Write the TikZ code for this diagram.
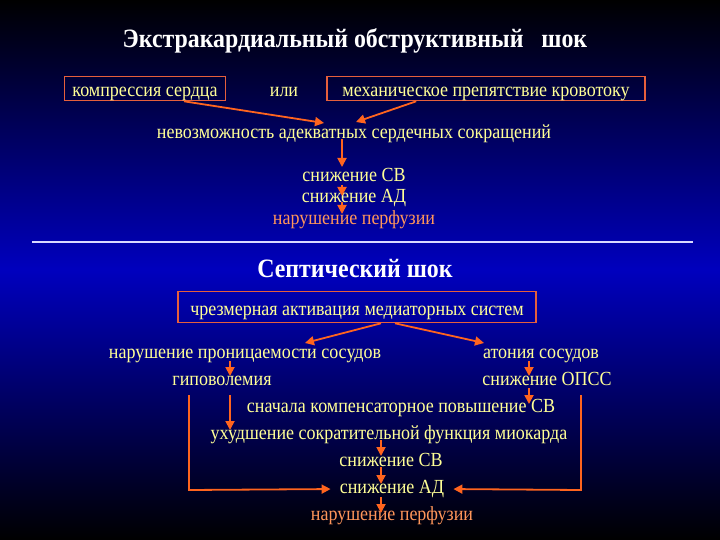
\documentclass[tikz,border=0pt]{standalone}
\usepackage{fontspec}
\setmainfont{Liberation Serif}[FakeStretch=0.9]
\usetikzlibrary{positioning}
\usetikzlibrary{arrows.meta}
\definecolor{pale}{RGB}{255,255,150}
\definecolor{hot}{RGB}{255,150,90}
\definecolor{rim}{RGB}{230,95,60}
\definecolor{arrc}{RGB}{255,100,30}
\definecolor{deep}{RGB}{0,0,190}

\begin{document}
\begin{tikzpicture}[x=1pt,y=-1pt,
            txt/.style = {text=pale,font=\fontsize{20}{20}\selectfont,inner sep=1pt,
                text height=12pt,text depth=3pt},
            perf/.style = {txt,text=hot},
            head/.style = {text=white,font=\fontsize{26.5}{26.5}\selectfont\bfseries},
            framed/.style = {txt,draw=rim,line width=1.6pt,minimum height=24pt,
                text height=17pt,text depth=0pt},
            arr/.style = {-{Triangle[length=9pt,width=9pt]},color=arrc,line width=1.8pt}]
            \shade[top color=black,bottom color=black,middle color=deep] (0,0) rectangle (720,540);
            \useasboundingbox (0,0) rectangle (720,540);
            % upper part
            \node[head] (title) at (355,41) {Экстракардиальный обструктивный \ \ шок};
            \node[framed,minimum width=161pt] (kompr) at (145,88.5) {компрессия сердца};
            \node[txt] (ili) at (284,92) {или};
            \node[framed,minimum width=318pt] (mekh) at (486,88.5) {механическое препятствие кровотоку};
            \node[txt] (nevozm) at (354,134) {невозможность адекватных сердечных сокращений};
            \node[txt] (snsv1) at (354,177) {снижение СВ};
            \node[txt] (snad1) at (354,198) {снижение АД};
            \node[perf] (narp1) at (354,220) {нарушение перфузии};
            \path
                ([xshift=39pt]kompr.south) edge[arr] (324,123)
                ([xshift=90pt]mekh.south west) edge[arr] (356,122)
                (342,139) edge[arr] (342,167)
                (342,185) edge[arr] (342,196)
                (342,202) edge[arr] (342,214);
            \draw[white!85!blue,line width=2.5pt] (32,242) -- (693,242);
            % lower part
            \node[head] (sept) at (355,269) {Септический шок};
            \node[framed,minimum width=358pt,minimum height=31pt] (chrezm) at (357,307) {чрезмерная активация медиаторных систем};
            \node[txt] (pronic) at (245,354) {нарушение проницаемости сосудов};
            \node[txt] (atonia) at (541,354) {атония сосудов};
            \node[txt] (gipo) at (222,381) {гиповолемия};
            \node[txt] (opss) at (547,381) {снижение ОПСС};
            \node[txt] (snachala) at (401,408) {сначала компенсаторное повышение СВ};
            \node[txt] (ukhud) at (389,435) {ухудшение сократительной функция миокарда};
            \node[txt] (snsv2) at (391,462) {снижение СВ};
            \node[txt] (snad2) at (392,489) {снижение АД};
            \node[perf] (narp2) at (392,516) {нарушение перфузии};
            \coordinate (lturn) at (189,490);
            \coordinate (rturn) at (581,490);
            \path
                ([xshift=24pt]chrezm.south) edge[arr] (305,343)
                ([xshift=38pt]chrezm.south) edge[arr] (484,343)
                (230,361) edge[arr] (230,376)
                (529,361) edge[arr] (529,376)
                (529,388) edge[arr] (529,404)
                (230,395) edge[arr] (230,430)
                (381,440) edge[arr] (381,456)
                (381,467) edge[arr] (381,484)
                (381,497) edge[arr] (381,513);
            \draw[arr,shorten >=8pt] (189,395) -- (lturn) -- (snad2.west);
            \draw[arr,shorten >=8pt] (581,395) -- (rturn) -- (snad2.east);
        \end{tikzpicture}
\end{document}
